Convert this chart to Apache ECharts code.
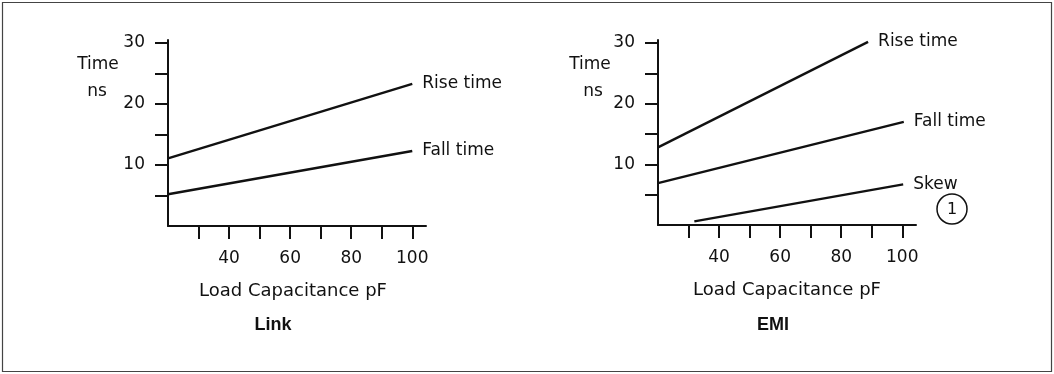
<!DOCTYPE html>
<html>
<head>
<meta charset="utf-8">
<script src="https://cdn.jsdelivr.net/npm/echarts@6/dist/echarts.min.js"></script>
<style>
html,body{margin:0;padding:0;background:#fff;}
#chart{width:1054px;height:374px;}
</style>
</head>
<body>
<div id="chart"></div>
<script>
// ---- data ----
var xTickValues = [30, 40, 50, 60, 70, 80, 90, 100];
var xLabelValues = [40, 60, 80, 100];
var yTickValues = [5, 10, 15, 20, 25, 30];
var yLabelValues = [10, 20, 30];
var panelTitles = ['Link', 'EMI'];
var xAxisName = 'Load Capacitance pF';
var yAxisNameLines = ['Time', 'ns'];

var linkRise = [[20, 11.1], [100, 23.3]];
var linkFall = [[20, 5.2], [100, 12.3]];
var emiRise = [[20, 12.8], [88.8, 30.2]];
var emiFall = [[20, 6.9], [100.5, 17.0]];
var emiSkew = [[31.9, 0.6], [100.3, 6.7]];

var seriesNames = ['Rise time', 'Fall time', 'Skew'];
var noteMark = '1';

// ---- chart ----
var FONT = 'DejaVu Sans';
var INK = '#111';
var chart = echarts.init(document.getElementById('chart'), null, {renderer: 'canvas'});

function xAxisCfg(gi) {
  return {
    type: 'value', gridIndex: gi, min: 20, max: 104.5,
    axisLine: {show: true, onZero: false, lineStyle: {color: INK, width: 2}},
    axisTick: {show: true, customValues: xTickValues, length: 13, lineStyle: {color: INK, width: 2}},
    axisLabel: {show: true, customValues: xLabelValues, margin: 24, color: INK, fontFamily: FONT, fontSize: 17},
    splitLine: {show: false},
    name: xAxisName, nameLocation: 'middle', nameGap: 56,
    nameTextStyle: {color: INK, fontFamily: FONT, fontSize: 18, padding: gi === 0 ? [0, 8, 0, 0] : 0}
  };
}
function yAxisCfg(gi) {
  return {
    type: 'value', gridIndex: gi, min: 0, max: 30.5,
    axisLine: {show: true, onZero: false, lineStyle: {color: INK, width: 2}},
    axisTick: {show: true, customValues: yTickValues, length: 13, lineStyle: {color: INK, width: 2}},
    axisLabel: {show: true, customValues: yLabelValues, margin: 23, color: INK, fontFamily: FONT, fontSize: 17},
    splitLine: {show: false}
  };
}
function lineSeries(name, data, gi) {
  return {
    type: 'line', name: name, data: data, xAxisIndex: gi, yAxisIndex: gi,
    showSymbol: false, symbol: 'none', silent: true, animation: false,
    lineStyle: {color: INK, width: 2.4},
    endLabel: {show: true, formatter: name, distance: 10, color: INK, fontFamily: FONT, fontSize: 17}
  };
}
function txt(x, y, s, extra) {
  var st = {text: s, x: 0, y: 0, textAlign: 'center', textVerticalAlign: 'middle',
    fill: INK, fontFamily: FONT, fontSize: 17};
  for (var k in (extra || {})) st[k] = extra[k];
  return {type: 'text', x: x, y: y, style: st, silent: true};
}

var option = {
  animation: false,
  backgroundColor: '#fff',
  grid: [
    {left: 168, top: 40, width: 258, bottom: 148, containLabel: false},
    {left: 658, top: 40, width: 258, bottom: 149, containLabel: false}
  ],
  xAxis: [xAxisCfg(0), xAxisCfg(1)],
  yAxis: [yAxisCfg(0), yAxisCfg(1)],
  series: [
    lineSeries(seriesNames[0], linkRise, 0),
    lineSeries(seriesNames[1], linkFall, 0),
    lineSeries(seriesNames[0], emiRise, 1),
    lineSeries(seriesNames[1], emiFall, 1),
    lineSeries(seriesNames[2], emiSkew, 1)
  ],
  graphic: [
    {type: 'rect', shape: {x: 2.5, y: 2.5, width: 1049, height: 369},
      style: {fill: 'none', stroke: '#444', lineWidth: 1.2}, silent: true},
    txt(98, 65, yAxisNameLines[0]),
    txt(97, 92, yAxisNameLines[1]),
    txt(590, 65, yAxisNameLines[0]),
    txt(593, 92, yAxisNameLines[1]),
    txt(273, 325, panelTitles[0], {fontWeight: 'bold', fontFamily: 'Liberation Sans', fontSize: 18}),
    txt(773, 325, panelTitles[1], {fontWeight: 'bold', fontFamily: 'Liberation Sans', fontSize: 18}),
    {type: 'circle', shape: {cx: 952, cy: 209, r: 15},
      style: {fill: 'none', stroke: INK, lineWidth: 1.5}, silent: true},
    txt(952, 210, noteMark, {fontSize: 16})
  ]
};
chart.setOption(option);
</script>
</body>
</html>
